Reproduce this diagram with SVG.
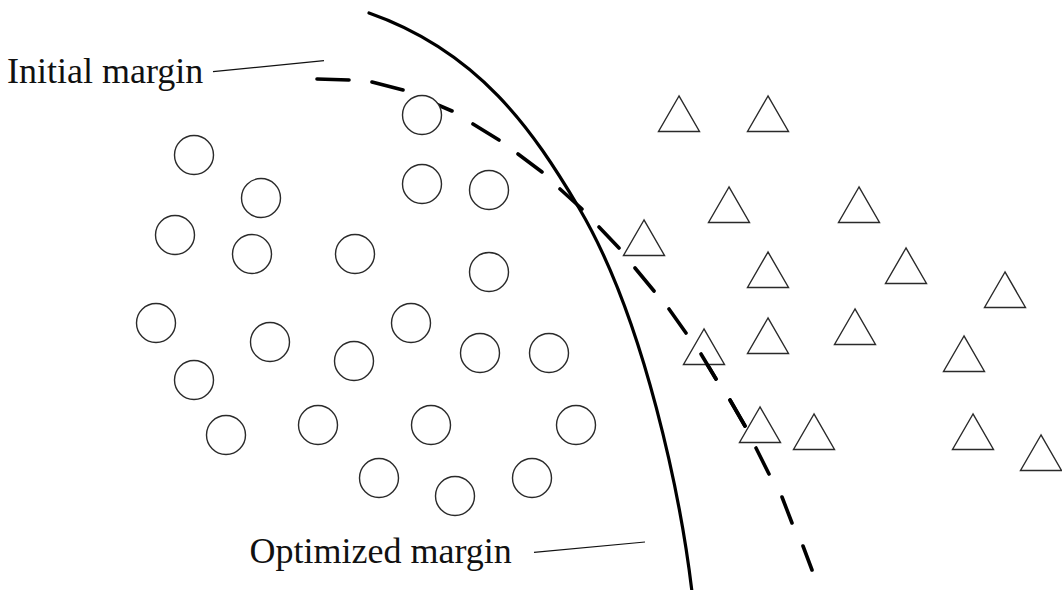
<svg xmlns="http://www.w3.org/2000/svg" xmlns:xlink="http://www.w3.org/1999/xlink" width="1062" height="590" viewBox="0 0 1062 590">
<style>
  .pt { fill: #fff; stroke: #2a2a2a; stroke-width: 1.4; }
  .lbl { font-family: "Liberation Serif", "Times New Roman", serif; font-size: 36px; fill: #111; }
  .leader { fill: none; stroke: #111; stroke-width: 1.2; }
  .solid { fill: none; stroke: #000; stroke-width: 3.2; stroke-linecap: round; }
  .dashed { fill: none; stroke: #000; stroke-width: 3.6; stroke-linecap: round; }
</style>
<defs>
  <polygon id="tri" class="pt" points="0,0 -20.5,35.5 20.5,35.5"/>
</defs>
<rect width="1062" height="590" fill="#fff"/>

<g id="connectors">
  <path class="solid" d="M369,13 C479,51.5 533.2,130.5 579,208 C645.2,319.9 681.2,500.6 692,592"/>
  <path class="dashed" d="M317,79 L349,80 M372,82 L403,90 M424,99 L452,111 M473,124 L499,140 M518,154 L542,172 M560,189 L582,209 M599,227 L619,248 M635,268 L654,291 M669,309 L686,333 M701,354 L716,379 M730,400 L745,426 M756,448 L769,474 M782,497 L792,523 M803,546 L812,570"/>
  <line class="leader" x1="213" y1="71.7" x2="324" y2="60.7"/>
  <line class="leader" x1="534" y1="552.3" x2="645" y2="542"/>
</g>

<g id="label-initial"><text class="lbl" x="7" y="82.5">Initial margin</text></g>
<g id="label-optimized"><text class="lbl" x="249.5" y="563">Optimized margin</text></g>

<g id="circles">
  <g id="c1"><circle class="pt" cx="422" cy="115" r="19.5"/></g>
  <g id="c2"><circle class="pt" cx="194" cy="155" r="19.5"/></g>
  <g id="c3"><circle class="pt" cx="261" cy="198" r="19.5"/></g>
  <g id="c4"><circle class="pt" cx="422" cy="184" r="19.5"/></g>
  <g id="c5"><circle class="pt" cx="489" cy="190" r="19.5"/></g>
  <g id="c6"><circle class="pt" cx="175" cy="235" r="19.5"/></g>
  <g id="c7"><circle class="pt" cx="252" cy="254" r="19.5"/></g>
  <g id="c8"><circle class="pt" cx="355" cy="254" r="19.5"/></g>
  <g id="c9"><circle class="pt" cx="489" cy="272" r="19.5"/></g>
  <g id="c10"><circle class="pt" cx="156" cy="323" r="19.5"/></g>
  <g id="c11"><circle class="pt" cx="270" cy="342" r="19.5"/></g>
  <g id="c12"><circle class="pt" cx="411" cy="323" r="19.5"/></g>
  <g id="c13"><circle class="pt" cx="354" cy="361" r="19.5"/></g>
  <g id="c14"><circle class="pt" cx="480" cy="353" r="19.5"/></g>
  <g id="c15"><circle class="pt" cx="549" cy="353" r="19.5"/></g>
  <g id="c16"><circle class="pt" cx="194" cy="380" r="19.5"/></g>
  <g id="c17"><circle class="pt" cx="226" cy="435" r="19.5"/></g>
  <g id="c18"><circle class="pt" cx="318" cy="425" r="19.5"/></g>
  <g id="c19"><circle class="pt" cx="431" cy="425" r="19.5"/></g>
  <g id="c20"><circle class="pt" cx="576" cy="425" r="19.5"/></g>
  <g id="c21"><circle class="pt" cx="379" cy="478" r="19.5"/></g>
  <g id="c22"><circle class="pt" cx="455" cy="496" r="19.5"/></g>
  <g id="c23"><circle class="pt" cx="532" cy="478" r="19.5"/></g>
</g>

<g id="triangles">
  <g id="t1"><use href="#tri" x="679" y="96"/></g>
  <g id="t2"><use href="#tri" x="768" y="96"/></g>
  <g id="t3"><use href="#tri" x="729" y="187"/></g>
  <g id="t4"><use href="#tri" x="859" y="187"/></g>
  <g id="t5"><use href="#tri" x="644" y="220"/></g>
  <g id="t6"><use href="#tri" x="768" y="252"/></g>
  <g id="t7"><use href="#tri" x="906" y="248"/></g>
  <g id="t8"><use href="#tri" x="1005" y="272"/></g>
  <g id="t9"><use href="#tri" x="704" y="329"/></g>
  <g id="t10"><use href="#tri" x="768" y="318"/></g>
  <g id="t11"><use href="#tri" x="855" y="309"/></g>
  <g id="t12"><use href="#tri" x="964" y="336"/></g>
  <g id="t13"><use href="#tri" x="760" y="407"/></g>
  <g id="t14"><use href="#tri" x="814" y="414"/></g>
  <g id="t15"><use href="#tri" x="973" y="414"/></g>
  <g id="t16"><use href="#tri" x="1041" y="435"/></g>
</g>

<g id="overlay">
  <path class="dashed" d="M701,354 L716,379 M730,400 L745,426"/>
</g>
</svg>
